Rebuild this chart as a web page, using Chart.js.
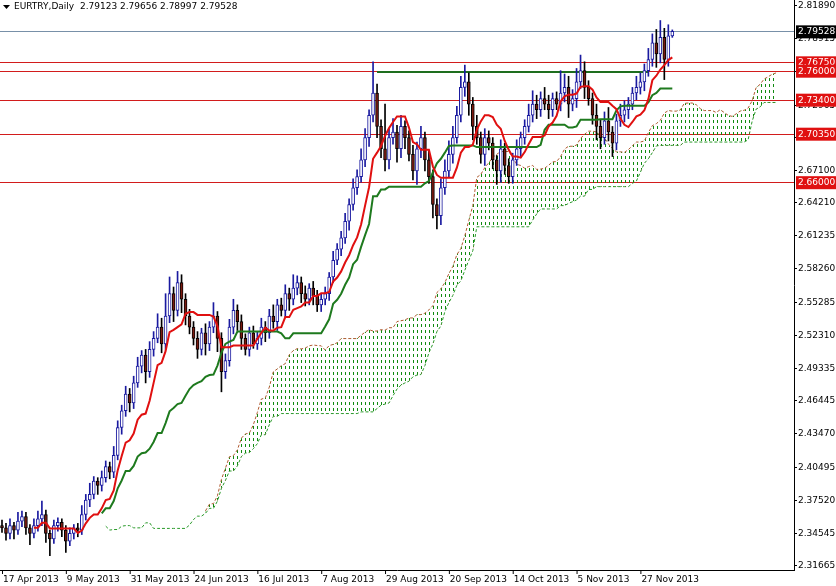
<!DOCTYPE html>
<html><head><meta charset="utf-8">
<script src="https://cdn.jsdelivr.net/npm/chart.js@4.4.1/dist/chart.umd.min.js"></script>
<style>body{margin:0;background:#fff}#wrap{width:836px;height:586px}</style>
</head><body><div id="wrap"><canvas id="c"></canvas></div>
<script>
// daily closes, 17 Apr 2013 .. 5 Dec 2013
const closes = [
 2.350,2.345,2.352,2.348,2.356,2.360,2.350,2.345,2.352,2.358,2.362,2.345,2.340,2.352,2.355,2.348,
 2.338,2.345,2.350,2.348,2.362,2.375,2.380,2.392,2.388,2.395,2.405,2.400,2.415,2.440,2.455,2.470,
 2.462,2.480,2.495,2.505,2.490,2.510,2.520,2.530,2.515,2.540,2.560,2.545,2.570,2.555,2.540,2.530,
 2.520,2.510,2.525,2.515,2.530,2.540,2.520,2.490,2.500,2.530,2.545,2.535,2.520,2.510,2.525,2.515,
 2.520,2.530,2.525,2.540,2.535,2.550,2.545,2.560,2.555,2.565,2.570,2.560,2.555,2.565,2.558,2.550,
 2.555,2.560,2.575,2.590,2.600,2.610,2.625,2.640,2.655,2.665,2.680,2.700,2.720,2.740,2.710,2.690,
 2.680,2.700,2.705,2.690,2.710,2.700,2.685,2.670,2.690,2.700,2.680,2.665,2.640,2.630,2.655,2.670,
 2.685,2.700,2.720,2.745,2.750,2.730,2.710,2.700,2.685,2.700,2.695,2.680,2.670,2.690,2.675,2.665,
 2.680,2.690,2.700,2.710,2.720,2.730,2.725,2.735,2.730,2.725,2.735,2.730,2.740,2.745,2.730,2.735,
 2.750,2.760,2.745,2.735,2.720,2.710,2.700,2.715,2.705,2.695,2.715,2.720,2.725,2.730,2.740,2.745,
 2.750,2.760,2.770,2.785,2.775,2.790,2.770,2.7912,2.79528
];
// upper / lower wick lengths in 0.001
const wickUp = [
 5,4,6,3,8,5,4,3,6,7,12,4,3,5,4,3, 4,5,3,4,8,5,10,4,3,6,5,4,8,6,5,7,
 5,6,8,4,5,7,6,12,8,20,15,6,10,7,5,6, 5,6,4,8,5,12,4,5,6,7,10,5,6,4,5,6,
 6,8,5,6,10,5,6,8,5,12,6,5,7,4,6,5, 5,6,4,8,5,6,7,5,8,6,10,8,5,28,8,6,
 40,8,12,6,10,5,6,8,6,10,5,8,6,5,8,10, 12,10,8,10,15,8,6,10,5,8,6,5,4,8,5,6,
 6,8,5,6,10,12,8,6,10,8,5,6,20,12,10,8, 12,14,8,6,5,10,6,8,12,5,6,10,8,6,5,10,
 8,6,10,8,12,15,8,10,1.3
];
const wickDown = [
 4,6,5,8,4,5,6,10,4,5,6,8,15,4,5,6, 10,4,5,6,4,5,6,4,8,5,4,6,5,4,6,5,
 8,5,4,6,10,5,6,4,8,5,6,10,5,12,8,6, 6,8,5,10,6,5,12,18,6,5,6,8,10,5,6,4,
 5,6,8,5,6,8,5,6,10,5,6,8,6,5,8,6, 6,5,6,5,4,6,5,8,5,6,5,6,8,6,10,8,
 10,8,6,12,8,10,6,8,12,8,10,6,12,12,8,6, 6,8,5,6,8,10,12,6,8,10,6,8,12,10,8,6,
 6,5,8,6,5,6,8,6,5,8,6,5,6,8,12,6, 8,6,10,6,8,12,10,6,8,12,6,5,6,8,5,6,
 6,8,5,6,12,8,18,6,1.3
];
const dateLabels = ['17 Apr 2013','9 May 2013','31 May 2013','24 Jun 2013','16 Jul 2013','7 Aug 2013',
 '29 Aug 2013','20 Sep 2013','14 Oct 2013','5 Nov 2013','27 Nov 2013'];
const yTicks = [2.81890,2.78915,2.75940,2.72965,2.70035,2.67100,2.64210,2.61235,2.58260,2.55285,
 2.52310,2.49335,2.46445,2.43470,2.40495,2.37520,2.34545,2.31665];
const redLevels = [2.76750,2.76000,2.73400,2.70350,2.66000];
const lastPrice = 2.79528;
const resistance = {value: 2.7589, from: 94, to: 162};

const N = closes.length, SHIFT = 26, TOTAL = N + SHIFT + 4;
const opens = closes.map((c, i) => i ? closes[i - 1] : 2.352);
const highs = closes.map((c, i) => Math.max(c, opens[i]) + wickUp[i] / 1000);
const lows = closes.map((c, i) => Math.min(c, opens[i]) - wickDown[i] / 1000);

function midRange(i, n) {
  if (i < n - 1) return null;
  let h = -1e9, l = 1e9;
  for (let k = i - n + 1; k <= i; k++) { h = Math.max(h, highs[k]); l = Math.min(l, lows[k]); }
  return (h + l) / 2;
}
const labels = Array.from({length: TOTAL}, (_, i) => i);
const tenkan = labels.map(i => i < N ? midRange(i, 9) : null);
const kijun = labels.map(i => i < N ? midRange(i, 26) : null);
const spanA = labels.map(i => {
  const j = i - SHIFT;
  if (j < 0 || j >= N || tenkan[j] == null || kijun[j] == null) return null;
  return (tenkan[j] + kijun[j]) / 2;
});
const spanB = labels.map(i => {
  const j = i - SHIFT;
  if (j < 0 || j >= N) return null;
  return midRange(j, 52) ?? midRange(j, j + 1);
});

function dotPattern(color) {
  const p = document.createElement('canvas');
  p.width = 4; p.height = 6;
  const g = p.getContext('2d');
  g.fillStyle = color; g.fillRect(1, 0, 1, 3);
  return g.createPattern(p, 'repeat');
}

const FONT = '9px "DejaVu Sans"';
const overlay = {
  id: 'overlay',
  beforeDatasetsDraw(chart) {
    const {ctx, chartArea: a, scales: {x, y}} = chart;
    ctx.save();
    ctx.lineWidth = 1;
    redLevels.forEach(v => {
      ctx.strokeStyle = '#d21c1c';
      ctx.beginPath(); ctx.moveTo(a.left, Math.round(y.getPixelForValue(v)) + .5);
      ctx.lineTo(a.right, Math.round(y.getPixelForValue(v)) + .5); ctx.stroke();
    });
    ctx.strokeStyle = '#7890a8';
    const yp = Math.round(y.getPixelForValue(lastPrice)) + .5;
    ctx.beginPath(); ctx.moveTo(a.left, yp); ctx.lineTo(a.right, yp); ctx.stroke();
    ctx.strokeStyle = '#1e6e1e'; ctx.lineWidth = 2;
    const yr = y.getPixelForValue(resistance.value);
    ctx.beginPath(); ctx.moveTo(x.getPixelForValue(resistance.from), yr);
    ctx.lineTo(x.getPixelForValue(resistance.to), yr); ctx.stroke();
    ctx.restore();
  },
  afterDraw(chart) {
    const {ctx, chartArea: a, scales: {x, y}} = chart;
    ctx.save();
    ctx.font = FONT;
    ctx.textBaseline = 'middle';
    ctx.fillStyle = '#000';
    yTicks.forEach(v => {
      const yp = Math.round(y.getPixelForValue(v));
      ctx.fillRect(a.right, yp, 3, 1);
      ctx.fillText(v.toFixed(5), a.right + 4, yp + .5);
    });
    const box = (v, bg, fg) => {
      const yp = y.getPixelForValue(v);
      ctx.fillStyle = bg; ctx.fillRect(a.right + 2, yp - 6, 41, 13);
      ctx.fillStyle = fg; ctx.fillText(v.toFixed(5), a.right + 4, yp + .5);
    };
    redLevels.forEach(v => box(v, '#e01010', '#fff'));
    box(lastPrice, '#000', '#fff');
    // date labels
    ctx.fillStyle = '#000'; ctx.textBaseline = 'top';
    dateLabels.forEach((d, k) => {
      const xp = x.getPixelForValue(k * 16);
      ctx.fillRect(xp, a.bottom, 1, 4);
      ctx.fillText(d, xp + 1, a.bottom + 5);
    });
    ctx.fillText('EURTRY,Daily  2.79123 2.79656 2.78997 2.79528', 14, 2);
    ctx.beginPath(); ctx.moveTo(3, 5); ctx.lineTo(10, 5); ctx.lineTo(6.5, 9); ctx.fill();
    ctx.restore();
  }
};

new Chart(document.getElementById('c'), {
  type: 'bar',
  data: {
    labels,
    datasets: [
      {type: 'line', data: spanA, borderColor: '#b05a30', borderWidth: 1, borderDash: [3, 2], pointRadius: 0,
       fill: {target: 1, above: dotPattern('#108a10'), below: dotPattern('#b03020')}, order: 5},
      {type: 'line', data: spanB, borderColor: '#2a9a2a', borderWidth: 1, borderDash: [3, 2], pointRadius: 0, fill: false, order: 5},
      {type: 'line', data: kijun, borderColor: '#1e7a1e', borderWidth: 2, pointRadius: 0, order: 1},
      {type: 'line', data: tenkan, borderColor: '#e01010', borderWidth: 2, pointRadius: 0, order: 0},
      {data: closes.map((c, i) => [lows[i], highs[i]]), backgroundColor: closes.map((c, i) => c >= opens[i] ? '#1a1aa0' : '#000'),
       barThickness: 1, grouped: false, order: 3},
      {data: closes.map((c, i) => [opens[i], c === opens[i] ? c + 0.0005 : c]),
       backgroundColor: closes.map((c, i) => c >= opens[i] ? '#fff' : '#7a1a10'),
       borderColor: closes.map((c, i) => c >= opens[i] ? '#1a1aa0' : '#000'),
       borderWidth: 1, borderSkipped: false, barThickness: 3, grouped: false, order: 2}
    ]
  },
  options: {
    responsive: true, maintainAspectRatio: false, animation: false,
    layout: {padding: 0},
    plugins: {legend: {display: false}, tooltip: {enabled: false}},
    scales: {
      x: {grid: {display: false}, ticks: {display: false}, border: {color: '#000'},
          afterFit: s => { s.height = 16; }},
      y: {position: 'right', min: 2.3122, max: 2.8234, grid: {display: false},
          border: {color: '#000'},
          ticks: {display: false},
          afterFit: s => { s.width = 42; }}
    }
  },
  plugins: [overlay]
});
</script></body></html>
